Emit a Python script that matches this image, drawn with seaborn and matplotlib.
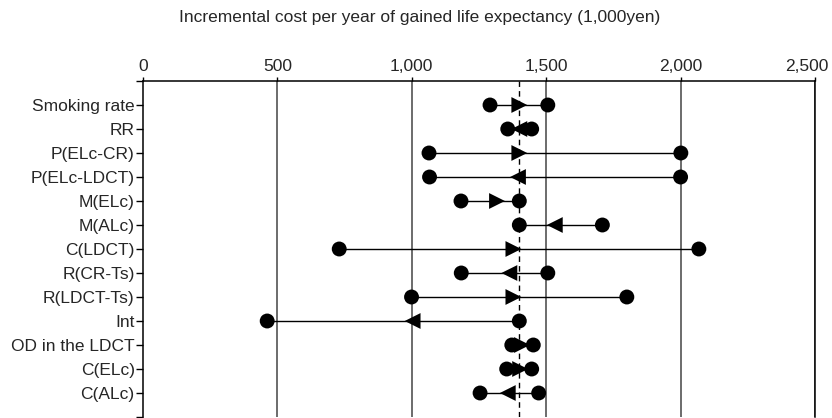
import numpy as np
import pandas as pd
import matplotlib
matplotlib.use("Agg")
import matplotlib.pyplot as plt
import matplotlib.transforms as mtransforms
import seaborn as sns

# sensitivity analysis: ICER range per parameter (1,000 yen)
params = ["Smoking rate", "RR", "P(ELc-CR)", "P(ELc-LDCT)", "M(ELc)", "M(ALc)",
          "C(LDCT)", "R(CR-Ts)", "R(LDCT-Ts)", "Int", "OD in the LDCT",
          "C(ELc)", "C(ALc)"]
low_val = [1291, 1357, 1064, 1066, 1183, 1400, 730, 1184, 999, 462, 1372, 1353, 1254]
high_val = [1506, 1446, 2001, 2000, 1400, 1709, 2068, 1506, 1800, 1400, 1452, 1446, 1472]
arrow_pos = [1400, 1400, 1400, 1395, 1317, 1532, 1378, 1363, 1378, 1003, 1410, 1403, 1357]
arrow_dir = [">", "<", ">", "<", ">", "<", ">", "<", ">", "<", ">", ">", "<"]
base_case = 1400
x_ticks = [0, 500, 1000, 1500, 2000, 2500]

sns.set_style("white")
plt.rcParams["font.family"] = ["Liberation Sans", "DejaVu Sans"]

df = pd.DataFrame({"param": params, "low": low_val, "high": high_val,
                   "arrow": arrow_pos, "dir": arrow_dir})
df["row"] = np.arange(1, len(df) + 1)

fig = plt.figure(figsize=(8.32, 4.18), dpi=100)
ax = fig.add_axes([143 / 832, 1 / 418, 672 / 832, 336 / 418])

for x in x_ticks[1:]:
    ax.axvline(x, color="#444444", lw=1.1, zorder=0)
ax.axvline(base_case, color="black", lw=1, ls=(0, (4, 3)), zorder=1)

ax.hlines(df["row"], df["low"], df["high"], color="black", lw=1, zorder=2)

dots = pd.concat([df[["row", "low"]].rename(columns={"low": "x"}),
                  df[["row", "high"]].rename(columns={"high": "x"})])
sns.scatterplot(data=dots, x="x", y="row", ax=ax, color="black", s=115,
                edgecolor="none", zorder=3, legend=False)
for d in [">", "<"]:
    sub = df[df["dir"] == d]
    sns.scatterplot(data=sub, x="arrow", y="row", ax=ax, color="black",
                    marker=d, s=130, edgecolor="none", zorder=4, legend=False)

ax.set_xlim(0, 2500)
ax.set_ylim(14, 0)
ax.xaxis.tick_top()
ax.set_xticks(x_ticks)
ax.set_xticklabels([f"{v:,}" for v in x_ticks], fontsize=12.5)
ax.set_yticks(range(0, 15))
ax.set_yticklabels([""] + params + [""], fontsize=12.5)
ax.tick_params(axis="y", length=5, width=1, color="black", pad=1, left=True)
ax.tick_params(axis="x", length=3, width=1, color="black", pad=2, top=True)
ax.set_xlabel("")
ax.set_ylabel("")

# last x label sits a bit left so it is not cut at the edge
last = ax.get_xticklabels()[-1]
last.set_transform(last.get_transform() +
                   mtransforms.ScaledTranslation(-8 / 100, 0, fig.dpi_scale_trans))

for side in ["top", "left", "right"]:
    ax.spines[side].set_visible(True)
    ax.spines[side].set_color("black")
    ax.spines[side].set_linewidth(1.1)
ax.spines["bottom"].set_visible(False)

fig.text(0.504, 0.957, "Incremental cost per year of gained life expectancy (1,000yen)",
         ha="center", va="center", fontsize=12.5)

fig.savefig("out.png", dpi=100)
